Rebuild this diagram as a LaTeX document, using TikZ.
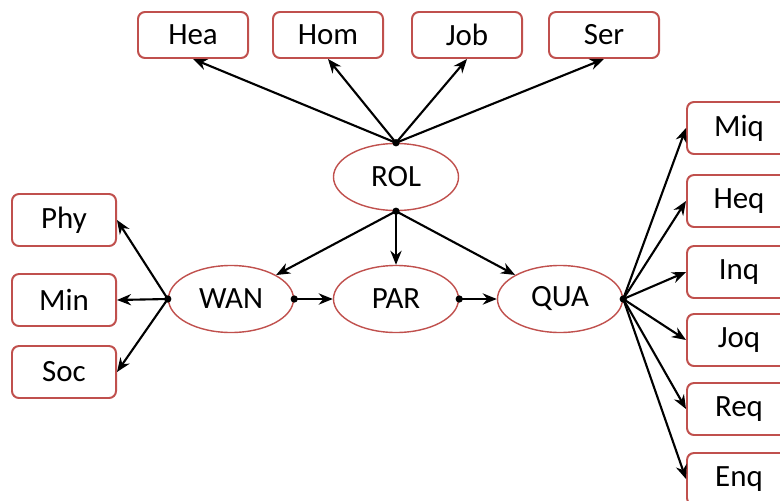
\documentclass[tikz,border=0pt]{standalone}
\usepackage{fontspec}
\setmainfont{Carlito}
\usetikzlibrary{shapes.geometric,arrows.meta}
\definecolor{boxred}{RGB}{192,80,77}
\tikzset{
  sidebox/.style={draw=boxred, line width=1.4pt, rounded corners=5pt, fill=white,
    minimum width=2.6cm, minimum height=1.3cm, inner sep=0pt},
  topbox/.style={sidebox, minimum width=2.75cm, minimum height=1.15cm},
  latent/.style={ellipse, draw=boxred, line width=1pt, fill=white,
    minimum width=3.125cm, minimum height=1.675cm, inner sep=0pt},
  link/.style={-{Stealth[length=10pt,width=8pt]}, line width=1.5pt},
}
\begin{document}
\begin{tikzpicture}[x=0.025cm, y=-0.025cm, font=\fontsize{22}{26}\selectfont]
  \useasboundingbox (0,0) rectangle (780,500);
  \clip (0,0) rectangle (780,500);
  % latent variables
  \node[latent] (ROL) at (396,177) {ROL};
  \node[latent] (WAN) at (231,299) {WAN};
  \node[latent] (PAR) at (396,299) {PAR};
  \node[latent] (QUA) at (560,299) {QUA};
  % indicators
  \foreach \n/\x in {Hea/193, Hom/328, Job/467, Ser/604}
    \node[topbox] (\n) at (\x,35) {\n};
  \foreach \n/\y in {Phy/220, Min/300, Soc/372}
    \node[sidebox] (\n) at (64,\y) {\n};
  \foreach \n/\y in {Miq/128, Heq/201, Inq/272, Joq/340, Req/409, Enq/479}
    \node[sidebox, anchor=west] (\n) at (686,\y) {\n};
  % connectors
  \foreach \n in {Hea,Hom,Job,Ser}
    \draw[link] (ROL.north) -- (\n.south);
  \foreach \n in {WAN,QUA}
    \draw[link] (ROL.south) -- (\n);
  \draw[link] (ROL.south) -- (PAR.north);
  \foreach \n in {Phy,Min,Soc}
    \draw[link] (WAN.west) -- (\n.east);
  \foreach \n in {Miq,Heq,Inq,Joq,Req,Enq}
    \draw[link] (QUA.east) -- (\n.west);
  \draw[link] (WAN.east) -- (PAR.west);
  \draw[link] (PAR.east) -- (QUA.west);
  % dots
  \foreach \p in {ROL.north, ROL.south, WAN.west, WAN.east, PAR.east, QUA.east}
    \fill (\p) circle[radius=2.6pt];
\end{tikzpicture}
\end{document}
